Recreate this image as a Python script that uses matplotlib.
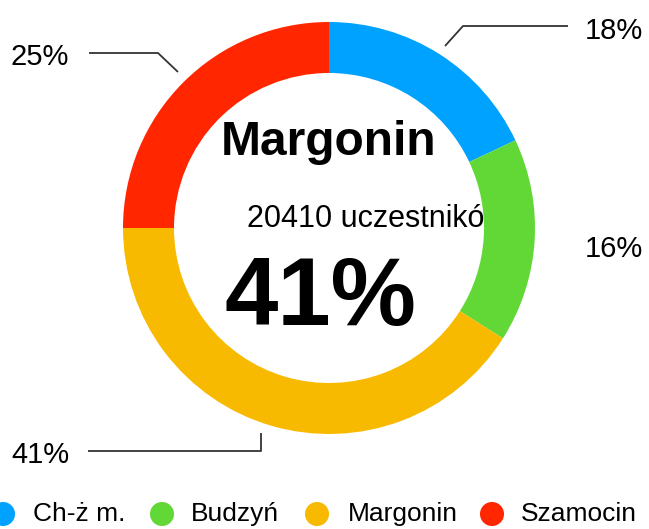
import matplotlib
matplotlib.use("Agg")
import matplotlib.pyplot as plt

# ---- data ----
categories = ['Ch-ż m.', 'Budzyń', 'Margonin', 'Szamocin']
values = [18, 16, 41, 25]
colors = ['#00A2FF', '#61D836', '#F8BA00', '#FF2600']
highlight = 'Margonin'
participants = 20410

W, H = 649, 529
plt.rcParams['font.family'] = ['Liberation Sans', 'DejaVu Sans']

fig = plt.figure(figsize=(W / 100, H / 100), dpi=100)
ax = fig.add_axes([0, 0, 1, 1])

def Y(y):
    return H - y

cx, cy = 329, Y(228)
R, ring = 206, 51

wedges, _ = ax.pie(values, colors=colors, startangle=90, counterclock=False,
                   radius=R, center=(cx, cy),
                   wedgeprops=dict(width=ring, linewidth=0, edgecolor='none', antialiased=True))
for w in wedges:
    w.set_zorder(2)

ax.set_xlim(0, W)
ax.set_ylim(0, H)
ax.set_aspect('equal')
ax.axis('off')

# ---- center texts ----
hi = categories.index(highlight)
ax.text(cx, Y(155), highlight, ha='center', va='baseline',
        fontsize=34.5, fontweight='bold', color='black', zorder=3)
# drawn beneath the ring so the part running under the ring is hidden
ax.text(247, Y(227), f"{participants} uczestników", ha='left', va='baseline',
        fontsize=22, color='black', zorder=1)
ax.text(320, Y(325), f"{values[hi]}%", ha='center', va='baseline',
        fontsize=69, fontweight='bold', color='black', zorder=3)

# ---- outside labels with leader lines (layout) ----
label_pos = [(614, 39), (614, 257), (40, 463), (40, 65)]
leaders = [
    [(445, 46), (463, 26), (568, 26)],
    None,
    [(88, 451), (261, 451), (261, 433)],
    [(89, 53), (158, 53), (178, 72)],
]
for v, (lx, ly), path in zip(values, label_pos, leaders):
    ax.text(lx, Y(ly), f"{v}%", ha='center', va='baseline', fontsize=21, color='black')
    if path:
        xs = [p[0] for p in path]
        ys = [Y(p[1]) for p in path]
        ax.plot(xs, ys, color='#333333', lw=1.3, solid_capstyle='butt')

# ---- legend (manual) ----
marker_x = [3, 162, 317, 492]
text_x = [33, 191, 348, 521]
ly = Y(514)
for name, col, mx, tx in zip(categories, colors, marker_x, text_x):
    ax.scatter([mx], [ly], s=300, color=col, edgecolors='none', clip_on=False)
    ax.text(tx, ly, name, ha='left', va='center', fontsize=19, color='black')

fig.savefig('out.png', dpi=100)
